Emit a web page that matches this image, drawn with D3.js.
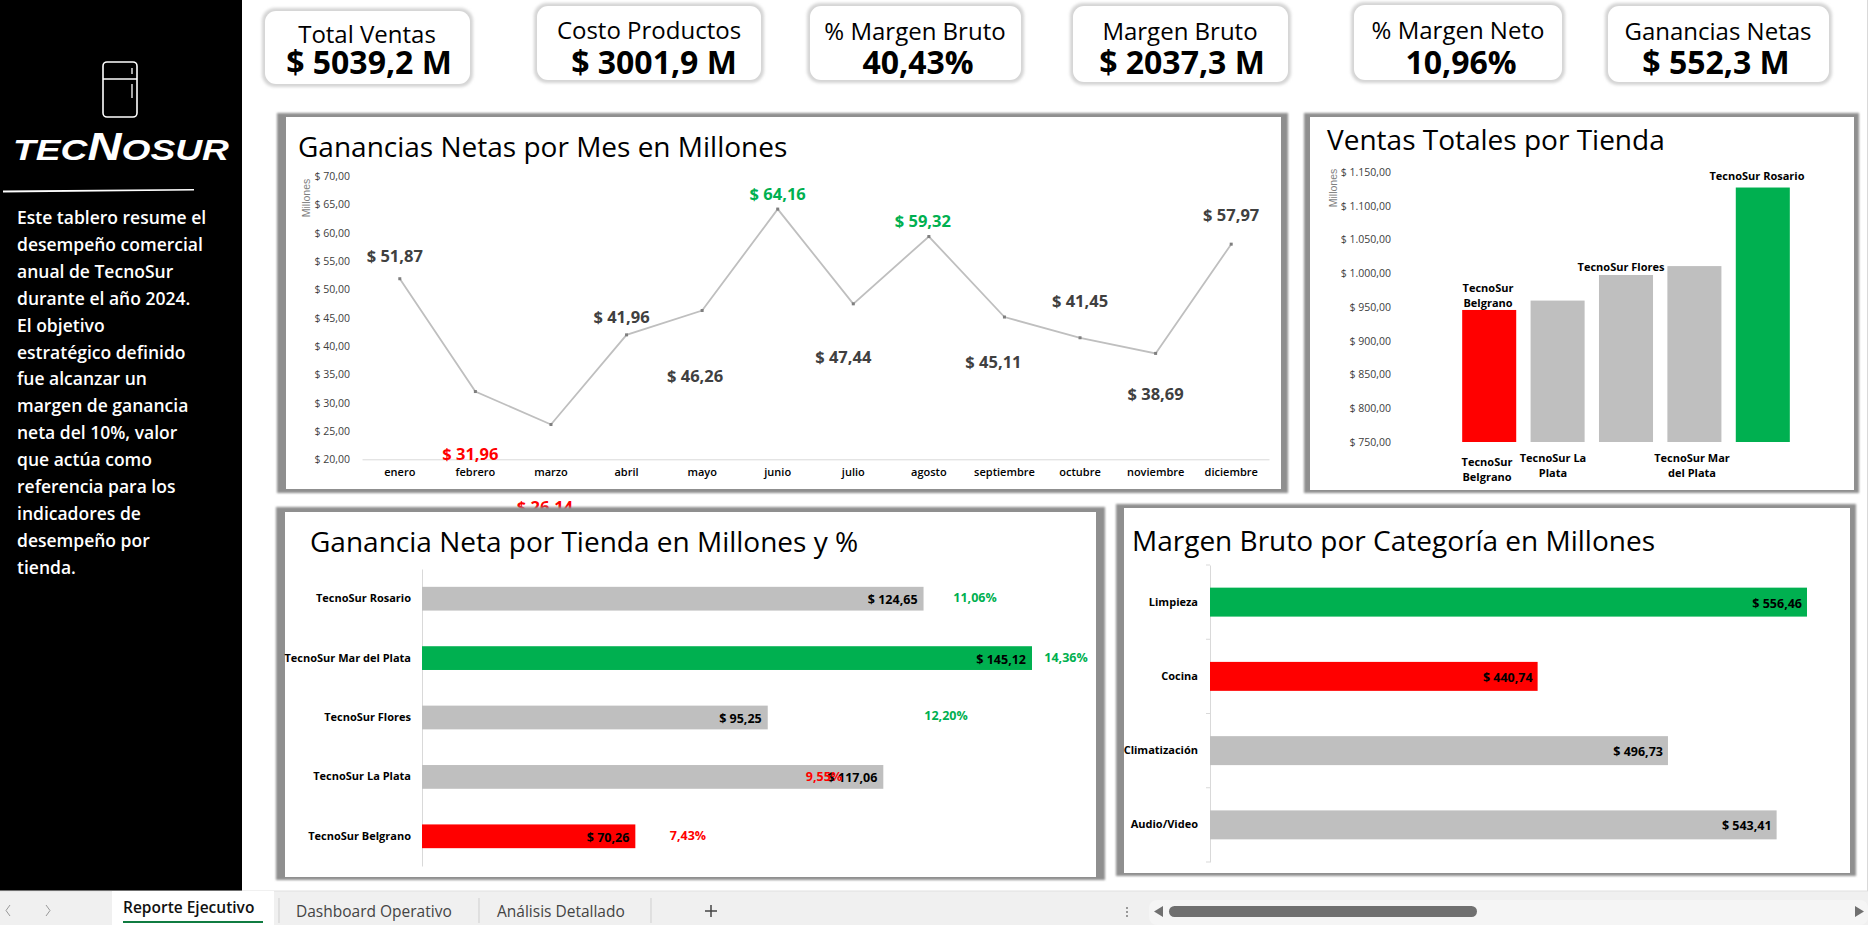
<!DOCTYPE html>
<html><head><meta charset="utf-8">
<script src="https://cdn.jsdelivr.net/npm/d3@7"></script>
<style>
html,body{margin:0;padding:0;background:#fff;overflow:hidden}
svg{display:block}
text{font-family:"Open Sans",sans-serif}
</style></head><body>
<svg id="c" width="1868" height="925"></svg>
<script>
// ---------- data ----------
const kpiLabels=["Total Ventas","Costo Productos","% Margen Bruto","Margen Bruto","% Margen Neto","Ganancias Netas"];
const kpiValues=["$ 5039,2 M","$ 3001,9 M","40,43%","$ 2037,3 M","10,96%","$ 552,3 M"];
const months=["enero","febrero","marzo","abril","mayo","junio","julio","agosto","septiembre","octubre","noviembre","diciembre"];
const monthProfit=[51.87,31.96,26.14,41.96,46.26,64.16,47.44,59.32,45.11,41.45,38.69,57.97];
const stores=["TecnoSur Belgrano","TecnoSur La Plata","TecnoSur Flores","TecnoSur Mar del Plata","TecnoSur Rosario"];
const storeSales=[945.6,959.5,997.4,1010.6,1127];
const storeProfit=[70.26,117.06,95.25,145.12,124.65];
const storeMargin=["7,43%","12,20%","9,55%","14,36%","11,06%"];
const categories=["Audio/Video","Climatización","Cocina","Limpieza"];
const categoryMargin=[543.41,496.73,440.74,556.46];
const salesTicks=[750,800,850,900,950,1000,1050,1100,1150];
const profitTicks=[20,25,30,35,40,45,50,55,60,65,70];
const sideLines=["Este tablero resume el","desempeño comercial","anual de TecnoSur","durante el año 2024.","El objetivo","estratégico definido","fue alcanzar un","margen de ganancia","neta del 10%, valor","que actúa como","referencia para los","indicadores de","desempeño por","tienda."];
const tabs=["Dashboard Operativo","Análisis Detallado"];

// ---------- helpers ----------
const GREEN="#00b050",RED="#ff0000",GREY="#bfbfbf",DARK="#404040";
const money=v=>"$ "+d3.format(",.2f")(v).replace(/,/g,"#").replace(".",",").replace(/#/g,".");
const svg=d3.select("#c");
const defs=svg.append("defs");
defs.append("filter").attr("id","blurP").attr("x","-5%").attr("y","-5%").attr("width","110%").attr("height","110%")
  .append("feGaussianBlur").attr("stdDeviation",1.2);
defs.append("filter").attr("id","blurK").attr("x","-10%").attr("y","-10%").attr("width","120%").attr("height","120%")
  .append("feGaussianBlur").attr("stdDeviation",1.6);
function txt(g,x,y,s,o={}){
  const t=g.append("text").attr("x",x).attr("y",y).text(s)
   .attr("font-size",o.size||12).attr("font-weight",o.weight||400).attr("fill",o.fill||"#000")
   .attr("text-anchor",o.anchor||"start").attr("dominant-baseline",o.base||"auto");
  if(o.len) t.attr("textLength",o.len).attr("lengthAdjust","spacingAndGlyphs");
  return t;
}
function panel(o,i){
  svg.append("rect").attr("x",o[0]).attr("y",o[1]).attr("width",o[2]-o[0]).attr("height",o[3]-o[1]).attr("fill","#8f8f8f").attr("filter","url(#blurP)");
  svg.append("rect").attr("x",i[0]).attr("y",i[1]).attr("width",i[2]-i[0]).attr("height",i[3]-i[1]).attr("fill","#fff");
}

// ---------- sidebar ----------
svg.append("rect").attr("width",242).attr("height",891).attr("fill","#000");
const fr=svg.append("g").attr("fill","none").attr("stroke","#fff");
fr.append("rect").attr("x",103).attr("y",62).attr("width",34).attr("height",55).attr("rx",4).attr("stroke-width",1.6);
fr.append("line").attr("x1",103).attr("x2",137).attr("y1",79).attr("y2",79).attr("stroke-width",1.6);
fr.append("line").attr("x1",132).attr("x2",132).attr("y1",68).attr("y2",74).attr("stroke-width",1.3);
fr.append("line").attr("x1",132).attr("x2",132).attr("y1",84).attr("y2",98).attr("stroke-width",1.3);
const logo=svg.append("text").attr("x",13).attr("y",160).attr("fill","#fff").attr("font-weight",700).attr("font-style","italic")
  .attr("font-size",30).style("font-family","'Liberation Sans',sans-serif").attr("textLength",216).attr("lengthAdjust","spacingAndGlyphs");
logo.append("tspan").text("TEC");logo.append("tspan").attr("font-size",38).text("N");logo.append("tspan").text("OSUR");
svg.append("path").attr("d","M3 190.5 L194 189 L194 190.5 L3 192.5Z").attr("fill","#fff");
sideLines.forEach((l,i)=>txt(svg,17,224+i*26.9,l,{size:17.5,weight:600,fill:"#fff"}));

// ---------- KPI cards ----------
const cardBox=[[262,8,473,87],[534,3,764,83],[807,3,1024,83],[1070,3,1291,85],[1351,2,1565,83],[1605,3,1832,85]];
const labelPos=[[367,43],[649,39],[915,40],[1180,40],[1458,39],[1718,40]];
const valuePos=[[369,74],[654,74],[918,74],[1182,74],[1461,74],[1716,74]];
cardBox.forEach((b,i)=>{
  svg.append("rect").attr("x",b[0]).attr("y",b[1]).attr("width",b[2]-b[0]).attr("height",b[3]-b[1]).attr("rx",13).attr("fill","#d4d4d4").attr("filter","url(#blurK)");
  svg.append("rect").attr("x",b[0]+3).attr("y",b[1]+3).attr("width",b[2]-b[0]-6).attr("height",b[3]-b[1]-6).attr("rx",11).attr("fill","#fff");
  txt(svg,labelPos[i][0],labelPos[i][1],kpiLabels[i],{size:24,anchor:"middle"});
  txt(svg,valuePos[i][0],valuePos[i][1],kpiValues[i],{size:32,weight:700,anchor:"middle"});
});

// ---------- chart 1: line ----------
panel([277,113,1288,493],[286,117,1281,489]);
txt(svg,298,157,"Ganancias Netas por Mes en Millones",{size:28,weight:400});
{
  const x=d3.scaleBand().domain(months).range([362,1269]);
  const y=d3.scaleLinear().domain([20,70]).range([459.3,176]);
  const g=svg.append("g");
  const ax=g.append("g").attr("transform","translate(0,459.3)").call(d3.axisBottom(x).tickSize(0).tickPadding(9));
  ax.select(".domain").attr("stroke","#d9d9d9");
  ax.selectAll("text").attr("font-size",11).attr("font-weight",600).attr("fill","#000").style("font-family","'Open Sans'");
  const ay=g.append("g").attr("transform","translate(354,0)").call(d3.axisLeft(y).tickValues(profitTicks).tickSize(0).tickPadding(4).tickFormat(money));
  ay.select(".domain").remove();
  ay.selectAll("text").attr("font-size",10.5).attr("fill","#404040").style("font-family","'Open Sans'");
  txt(g,0,0,"Millones",{size:10.5,fill:"#7f7f7f",anchor:"middle"}).style("font-family","'Liberation Sans'").attr("transform","translate(310,198) rotate(-90)");
  const cx=d=>x(d)+x.bandwidth()/2;
  g.append("path").attr("fill","none").attr("stroke",GREY).attr("stroke-width",1.8)
   .attr("d",d3.line().x((d,i)=>cx(months[i])).y(d=>y(d))(monthProfit));
  g.selectAll("rect.m").data(monthProfit).join("rect").attr("class","m").attr("x",(d,i)=>cx(months[i])-1.5).attr("y",d=>y(d)-1.5).attr("width",3).attr("height",3).attr("fill","#7f7f7f");
  const off=[[-5,-23],[-5,62],[-6,82],[-5,-18],[-7,65],[0,-16],[-10,53],[-6,-16],[-11,44],[0,-37],[0,40],[0,-30]];
  const best=new Set([5,7]),worst=new Set([1,2]);
  monthProfit.forEach((v,i)=>txt(g,cx(months[i])+off[i][0],y(v)+off[i][1],money(v),{size:16.5,weight:700,anchor:"middle",base:"central",fill:best.has(i)?GREEN:worst.has(i)?RED:DARK}));
}

// ---------- chart 2: column ----------
panel([1304,113,1859,493],[1310,117,1854,490]);
txt(svg,1327,150,"Ventas Totales por Tienda",{size:28});
{
  const x=d3.scaleBand().domain(stores).range([1455,1797]).paddingInner(0.21).paddingOuter(0.105);
  const y=d3.scaleLinear().domain([750,1150]).range([442,172]);
  const g=svg.append("g");
  const ay=g.append("g").attr("transform","translate(1395,0)").call(d3.axisLeft(y).tickValues(salesTicks).tickSize(0).tickPadding(4).tickFormat(money));
  ay.select(".domain").remove();
  ay.selectAll("text").attr("font-size",10.5).attr("fill","#404040").style("font-family","'Open Sans'");
  txt(g,0,0,"Millones",{size:10.5,fill:"#7f7f7f",anchor:"middle"}).style("font-family","'Liberation Sans'").attr("transform","translate(1337,188) rotate(-90)");
  g.selectAll("rect").data(storeSales).join("rect").attr("x",(d,i)=>x(stores[i])).attr("width",x.bandwidth()).attr("y",d=>y(d)).attr("height",d=>442-y(d))
   .attr("fill",(d,i)=>i==0?RED:i==4?GREEN:GREY);
  const o={size:11,weight:700,anchor:"middle",base:"central"};
  txt(g,1757,175,"TecnoSur Rosario",o);
  txt(g,1621,266,"TecnoSur Flores",o);
  txt(g,1488,287,"TecnoSur",o);txt(g,1488,302,"Belgrano",o);
  txt(g,1487,461,"TecnoSur",o);txt(g,1487,476,"Belgrano",o);
  txt(g,1553,457,"TecnoSur La",o);txt(g,1553,472,"Plata",o);
  txt(g,1692,457,"TecnoSur Mar",o);txt(g,1692,472,"del Plata",o);
}

// ---------- chart 3: store bars ----------
panel([276,507,1105,880],[285,512,1096,877]);
txt(svg,310,552,"Ganancia Neta por Tienda en Millones y %",{size:28});
{
  const y=d3.scaleBand().domain(stores).range([866,569]).paddingInner(0.6).paddingOuter(0.3);
  const x=d3.scaleLinear().domain([30,145.12]).range([422,1032]);
  const g=svg.append("g");
  const ay=g.append("g").attr("transform","translate(422,0)").call(d3.axisLeft(y).tickSize(0).tickPadding(11));
  ay.select(".domain").attr("stroke","#d9d9d9");
  ay.selectAll("text").attr("font-size",11).attr("font-weight",700).attr("fill","#000").style("font-family","'Open Sans'");
  g.selectAll("rect").data(storeProfit).join("rect").attr("x",x(30)).attr("y",(d,i)=>y(stores[i])).attr("height",y.bandwidth()).attr("width",d=>x(d)-x(30))
   .attr("fill",(d,i)=>i==0?RED:i==3?GREEN:GREY);
  const pctX=[688,946,824,1066,975],pctY=[835,715,776,657,597],pctC=[RED,GREEN,RED,GREEN,GREEN];
  storeProfit.forEach((v,i)=>{
    txt(g,x(v)-6,y(stores[i])+y.bandwidth()/2+1,money(v),{size:12.5,weight:700,anchor:"end",base:"central"});
    txt(g,pctX[i],pctY[i],storeMargin[i],{size:12.5,weight:700,anchor:"middle",base:"central",fill:pctC[i]});
  });
}

// ---------- chart 4: category bars ----------
panel([1116,504,1856,876],[1124,508,1850,873]);
txt(svg,1132,551,"Margen Bruto por Categoría en Millones",{size:28});
{
  const y=d3.scaleBand().domain(categories).range([862,565]).paddingInner(0.61).paddingOuter(0.305);
  const x=d3.scaleLinear().domain([300,556.46]).range([1210,1807]);
  const g=svg.append("g");
  const ay=g.append("g").attr("transform","translate(1210,0)").call(d3.axisLeft(y).tickSize(0).tickPadding(12));
  ay.select(".domain").attr("stroke","#d9d9d9");
  ay.selectAll("text").attr("font-size",11).attr("font-weight",700).attr("fill","#000").style("font-family","'Open Sans'");
  d3.range(0,5).forEach(k=>g.append("line").attr("x1",1206).attr("x2",1210).attr("y1",565+k*74.25).attr("y2",565+k*74.25).attr("stroke","#d9d9d9"));
  g.selectAll("rect").data(categoryMargin).join("rect").attr("x",x(300)).attr("y",(d,i)=>y(categories[i])).attr("height",y.bandwidth()).attr("width",d=>x(d)-x(300))
   .attr("fill",(d,i)=>i==3?GREEN:i==2?RED:GREY);
  categoryMargin.forEach((v,i)=>txt(g,x(v)-5,y(categories[i])+y.bandwidth()/2+1,money(v),{size:12.5,weight:700,anchor:"end",base:"central"}));
}

// ---------- bottom bar ----------
svg.append("rect").attr("x",0).attr("y",891).attr("width",1868).attr("height",34).attr("fill","#f0f0f0");
svg.append("line").attr("x1",0).attr("x2",1868).attr("y1",891).attr("y2",891).attr("stroke","#e0e0e0");
svg.append("rect").attr("x",1867).attr("y",0).attr("width",1).attr("height",891).attr("fill","#d9d9d9");
svg.append("rect").attr("x",112).attr("y",891).attr("width",162).attr("height",34).attr("fill","#fff");
txt(svg,123,913,"Reporte Ejecutivo",{size:15.5,weight:600,fill:"#111"});
svg.append("rect").attr("x",123).attr("y",921).attr("width",140).attr("height",2).attr("fill","#107c41");
[296,497].forEach((x0,i)=>txt(svg,x0,917,tabs[i],{size:15.5,fill:"#444"}));
[279,479,651].forEach(x0=>svg.append("line").attr("x1",x0).attr("x2",x0).attr("y1",898).attr("y2",923).attr("stroke","#cfcfcf"));
svg.append("path").attr("d","M711 905V917M705 911H717").attr("stroke","#444").attr("stroke-width",1.5);
svg.append("path").attr("d","M10 905L6 910.5L10 916M46 905L50 910.5L46 916").attr("fill","none").attr("stroke","#999");
svg.append("rect").attr("x",1149).attr("y",900).attr("width",719).attr("height",25).attr("rx",8).attr("fill","#f5f5f5");
svg.append("rect").attr("x",1169).attr("y",906).attr("width",308).attr("height",11).attr("rx",5.5).attr("fill","#707070");
svg.append("path").attr("d","M1163 906L1154 911.5L1163 917ZM1855 906L1864 911.5L1855 917Z").attr("fill","#707070");
[907,911,915].forEach(y0=>svg.append("rect").attr("x",1126).attr("y",y0).attr("width",2).attr("height",2).attr("fill","#999"));
</script></body></html>
